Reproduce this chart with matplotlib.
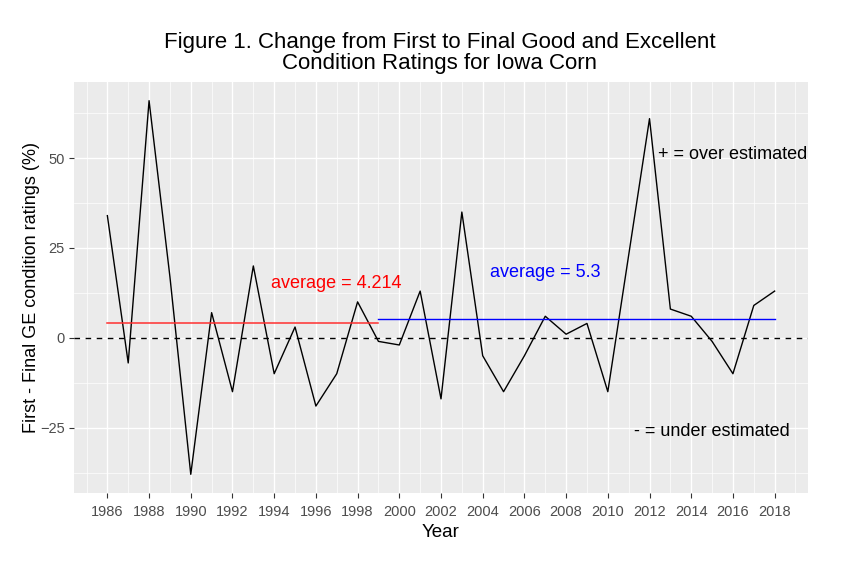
import matplotlib
matplotlib.use("Agg")
import matplotlib.pyplot as plt
import numpy as np

plt.rcParams['font.family'] = ['Liberation Sans', 'DejaVu Sans']

years = list(range(1986, 2019))
change = [34, -7, 66, 17, -38, 7, -15, 20, -10, 3, -19, -10, 10, -1,
          -2, 13, -17, 35, -5, -15, -5, 6, 1, 4, -15, 23, 61, 8, 6, -1, -10, 9, 13]

avg1_label = "average = 4.214"
avg1_value = 4.214
avg1_span = [1986, 1999]
avg2_label = "average = 5.3"
avg2_value = 5.3
avg2_span = [1999, 2018]

xticks = list(range(1986, 2019, 2))
yticks = [-25, 0, 25, 50]

title = "Figure 1. Change from First to Final Good and Excellent\nCondition Ratings for Iowa Corn"

W, H = 844, 562
fig = plt.figure(figsize=(W / 100, H / 100), dpi=100)
L, R, T, B = 74, 808, 82, 493
ax = fig.add_axes([L / W, 1 - B / H, (R - L) / W, (B - T) / H])
ax.set_facecolor('#EBEBEB')
for s in ax.spines.values():
    s.set_visible(False)

xmin, xmax = min(years), max(years)
xr = xmax - xmin
ax.set_xlim(xmin - 0.05 * xr, xmax + 0.05 * xr)
ymin, ymax = min(change), max(change)
yr = ymax - ymin
ax.set_ylim(ymin - 0.05 * yr, ymax + 0.05 * yr)

ax.set_xticks(xticks)
ax.set_xticks([x + 1 for x in range(1984, 2020, 2)], minor=True)
ax.set_yticks(yticks)
ax.set_yticks([-37.5, -12.5, 12.5, 37.5, 62.5], minor=True)
ax.grid(which='major', color='white', linewidth=1.0)
ax.grid(which='minor', color='white', linewidth=0.5)
ax.set_axisbelow(True)
ax.tick_params(which='major', length=3.5, width=0.8, color='#333333',
               labelcolor='#4D4D4D', labelsize=10.5)
ax.tick_params(axis='x', which='major', pad=5)
ax.tick_params(axis='y', which='major', pad=3)
ax.tick_params(which='minor', length=0)

ax.axhline(0, color='black', linestyle=(0, (4, 4)), linewidth=1.0)
ax.plot(years, change, color='black', linewidth=1.0)
ax.plot(avg1_span, [avg1_value, avg1_value], color='#FF3030', linewidth=1.1)
ax.plot(avg2_span, [avg2_value, avg2_value], color='#0000FF', linewidth=1.0)

ax.text(1997, 15.2, avg1_label, color='#FF0000', fontsize=13, ha='center', va='center')
ax.text(2007, 18.2, avg2_label, color='#0000FF', fontsize=13, ha='center', va='center')
ax.text(2016, 51, "+ = over estimated", color='black', fontsize=13, ha='center', va='center')
ax.text(2015, -26, "- = under estimated", color='black', fontsize=13, ha='center', va='center')

ax.set_xlabel("Year", fontsize=13.5, labelpad=4)
ax.set_ylabel("First - Final GE condition ratings (%)", fontsize=13, labelpad=0)
fig.text(439.5 / W, 1 - 53 / H, title, ha='center', va='center', fontsize=16, linespacing=1.0)

fig.savefig("out.png", dpi=100, facecolor='white')
